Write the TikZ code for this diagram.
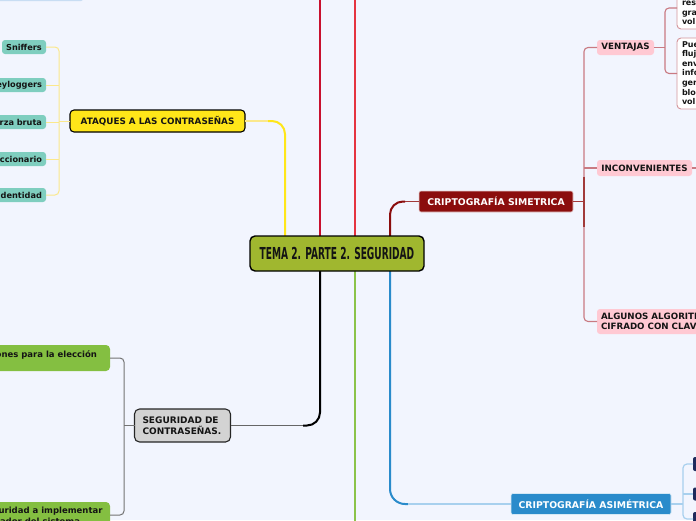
\documentclass[tikz,border=0pt]{standalone}
\usepackage{fontspec}
\usepackage{graphicx}
\setmainfont{DejaVu Sans}
\usetikzlibrary{calc}
\definecolor{bg}{HTML}{F2F5FE}
\definecolor{olive}{HTML}{A0B72F}
\definecolor{yel}{HTML}{FFE619}
\definecolor{yellite}{HTML}{FBE88C}
\definecolor{crim}{HTML}{C8102E}
\definecolor{redb}{HTML}{E53340}
\definecolor{dred}{HTML}{8B0D0D}
\definecolor{dredl}{HTML}{A23A3A}
\definecolor{grn}{HTML}{8BC34A}
\definecolor{blu}{HTML}{2A8BCB}
\definecolor{blul}{HTML}{A8D0EE}
\definecolor{teal}{HTML}{7FCEBF}
\definecolor{gbox}{HTML}{84BF41}
\definecolor{pinkf}{HTML}{FFC9D3}
\definecolor{pinkl}{HTML}{C97A82}
\definecolor{navy}{HTML}{1E2A5C}
\definecolor{greyf}{HTML}{D3D3D3}
\definecolor{tlblue}{HTML}{C8DDF3}
\definecolor{txt}{HTML}{141414}
\tikzset{
  base/.style={inner sep=0pt, outer sep=0pt, text=txt, font=\bfseries\fontsize{8.6}{10}\selectfont},
  mainbox/.style={base, draw=black, line width=1.4pt, fill=olive, rounded corners=5pt},
  ybox/.style={base, draw=black, line width=1.1pt, fill=yel, rounded corners=4pt, font=\bfseries\fontsize{8.8}{10}\selectfont},
  tbox/.style={base, fill=teal, rounded corners=3pt, minimum height=14pt, font=\bfseries\fontsize{8.2}{10}\selectfont},
  grbox/.style={base, fill=gbox, rounded corners=4pt},
  segbox/.style={base, draw=black!85, line width=1.1pt, fill=greyf, rounded corners=5pt, font=\bfseries\fontsize{9}{11}\selectfont},
  csbox/.style={base, fill=dred, draw=white!80!dred, line width=0.6pt, rounded corners=2pt, text=white, font=\bfseries\fontsize{9.3}{10}\selectfont},
  cabox/.style={base, fill=blu, draw=white!80!blu, line width=0.6pt, rounded corners=2pt, text=white, font=\bfseries\fontsize{9.3}{10}\selectfont},
  pbox/.style={base, fill=pinkf, rounded corners=3pt, font=\bfseries\fontsize{8.7}{10}\selectfont},
  wbox/.style={base, fill=white, draw=pinkl!80, line width=0.9pt, rounded corners=4pt},
  nbox/.style={base, fill=navy, rounded corners=2pt},
  smalltxt/.style={base, font=\bfseries\fontsize{8}{9.6}\selectfont, align=left},
  gtxt/.style={base, font=\bfseries\fontsize{8.5}{10}\selectfont},
  ylite/.style={yellite, line width=1pt},
  gline/.style={black!55, line width=1pt},
  pline/.style={pinkl, line width=1.1pt},
  bline/.style={blul, line width=1.2pt},
}
\begin{document}
\begin{tikzpicture}[x=1pt,y=-1pt]
\useasboundingbox (0,0) rectangle (696,520);
\fill[bg] (0,0) rectangle (696,520);

% top-left partial box
\node[base, fill=tlblue, rounded corners=2pt, minimum width=88pt, minimum height=12pt] (tl) at (39,-5) {};

% ---- coordinates for main branches
\coordinate (cyT) at (285,237);
\coordinate (yEnd) at (268,121);
\coordinate (cr1) at (320,237);
\coordinate (top1) at (320,-5);
\coordinate (cr2) at (355,237);
\coordinate (top2) at (355,-5);
\coordinate (cdT) at (390,237);
\coordinate (dEnd) at (405,201.5);
\coordinate (ckB) at (320,270);
\coordinate (kEnd) at (303,425.5);
\coordinate (cgB) at (355,270);
\coordinate (bot) at (355,525);
\coordinate (cbB) at (390,270);
\coordinate (bEnd) at (408,504);

% ---- nodes
\node[ybox, minimum width=175pt, minimum height=22pt] (at) at (157.5,121) {ATAQUES A LAS CONTRASEÑAS};

\node[tbox, minimum width=44pt] (sn) at (24,47) {Sniffers};
\node[tbox, text width=58pt, inner xsep=4pt, align=right] (kl) at (13,85) {eyloggers};
\node[tbox, text width=58pt, inner xsep=4pt, align=right] (fb) at (13,122) {erza bruta};
\node[tbox, text width=58pt, inner xsep=4pt, align=right] (dc) at (13,159) {ccionario};
\node[tbox, text width=58pt, inner xsep=4pt, align=right] (id) at (13,195) {identidad};

\node[grbox, minimum width=170pt, minimum height=26pt] (g1) at (25,358) {};
\node[gtxt, anchor=base east] (g1t) at (97,357) {ones para la elección};
\node[grbox, minimum width=170pt, minimum height=26pt] (g2) at (25,515) {};
\node[gtxt, anchor=base east] (g2t) at (102.5,513) {uridad a implementar};
\node[gtxt, anchor=base east] (g2u) at (80,524.5) {rador del sistema};

\node[segbox, text width=80pt, inner xsep=8pt, minimum height=33pt, align=left] (seg) at (182.5,425.5) {SEGURIDAD DE\\CONTRASEÑAS.};

\node[csbox, minimum width=154pt, minimum height=21pt] (cs) at (496,201.5) {CRIPTOGRAFÍA SIMETRICA};
\node[pbox, minimum width=57pt, minimum height=15pt] (ven) at (625.5,47.5) {VENTAJAS};
\node[pbox, minimum width=95pt, minimum height=16pt] (inc) at (644.5,168) {INCONVENIENTES};
\node[pbox, minimum width=123pt, minimum height=25pt] (alg) at (658.5,321.5) {};
\node[base, font=\bfseries\fontsize{8.7}{10}\selectfont, align=left, anchor=west] (algt) at (601,321.5) {ALGUNOS ALGORITMOS\\CIFRADO CON CLAVE};
\coordinate (incR) at (700,168);

\node[wbox, minimum width=54pt, minimum height=42pt] (wb1) at (704,8) {};
\node[wbox, minimum width=54pt, minimum height=71pt] (wb2) at (704,73.5) {};
\node[smalltxt, anchor=north west] (wb1t) at (682,1.2) {res\\gra\\vol};
\node[smalltxt, anchor=north west] (wb2t) at (682,41.3) {Pue\\fluj\\env\\info\\ger\\blo\\vol};

\node[cabox, minimum width=160pt, minimum height=21pt] (ca) at (591,504) {CRIPTOGRAFÍA ASIMÉTRICA};
\node[nbox, minimum width=34pt, minimum height=14pt] (n1) at (710,464) {};
\node[nbox, minimum width=34pt, minimum height=13pt] (n2) at (710,494) {};
\node[nbox, minimum width=34pt, minimum height=14pt] (n3) at (710,519) {};

% ---- connectors: brackets
\coordinate (yb) at (59,121);
\draw[ylite] (at.west) -- (yb);
\draw[ylite, rounded corners=4pt] (sn.east) -| (yb) |- (id.east);
\draw[ylite] (kl.east) -- (kl.east -| yb);
\draw[ylite] (fb.east) -- (fb.east -| yb);
\draw[ylite] (dc.east) -- (dc.east -| yb);

\coordinate (gb) at (124,425.5);
\draw[gline] (seg.west) -- (gb);
\draw[gline, rounded corners=4pt] (g1.east) -| (gb) |- (g2.east);

\coordinate (pb) at (584,201.5);
\draw[dredl, line width=1.2pt] (cs.east) -- (pb);
\draw[pline, rounded corners=4pt] (ven.west) -| (pb) |- (alg.west);
\draw[dredl, line width=1.2pt] ($(pb)+(0,-25)$) -- ($(pb)+(0,25)$);
\draw[pline] (inc.west) -- (inc.west -| pb);
\draw[pline] (inc.east) -- (incR);

\coordinate (vb) at (665,47.5);
\draw[pline] (ven.east) -- (vb);
\draw[pline, rounded corners=4pt] (wb1.west) -| (vb) |- (wb2.west);

\coordinate (bb) at (683,504);
\draw[bline] (ca.east) -- (bb);
\draw[bline, rounded corners=4pt] (n1.west) -| (bb) |- (n3.west);
\draw[bline] (n2.west) -- (n2.west -| bb);

% ---- main branches
\draw[yel, line width=2pt, rounded corners=13pt] (cyT) |- (yEnd);
\draw[yellite, line width=1.3pt] (yEnd) -- (at.east);
\draw[crim, line width=2pt] (cr1) -- (top1);
\draw[redb, line width=2.4pt] (cr2) -- (top2);
\draw[dred, line width=2pt, rounded corners=13pt] (cdT) |- (dEnd);
\draw[dredl, line width=1.3pt] (dEnd) -- (cs.west);
\draw[black, line width=2pt, rounded corners=13pt] (ckB) |- (kEnd);
\draw[black!60, line width=1pt] (kEnd) -- (seg.east);
\draw[grn, line width=2.4pt] (cgB) -- (bot);
\draw[blu, line width=2pt, rounded corners=15pt] (cbB) |- (bEnd);
\draw[blul, line width=1.5pt] (bEnd) -- (ca.west);

% central node
\node[mainbox, minimum width=174pt, minimum height=35pt] (c) at (337,253.5) {\scalebox{0.55}[1]{\fontsize{16.5}{18}\selectfont TEMA 2. PARTE 2. SEGURIDAD}};
\end{tikzpicture}
\end{document}
